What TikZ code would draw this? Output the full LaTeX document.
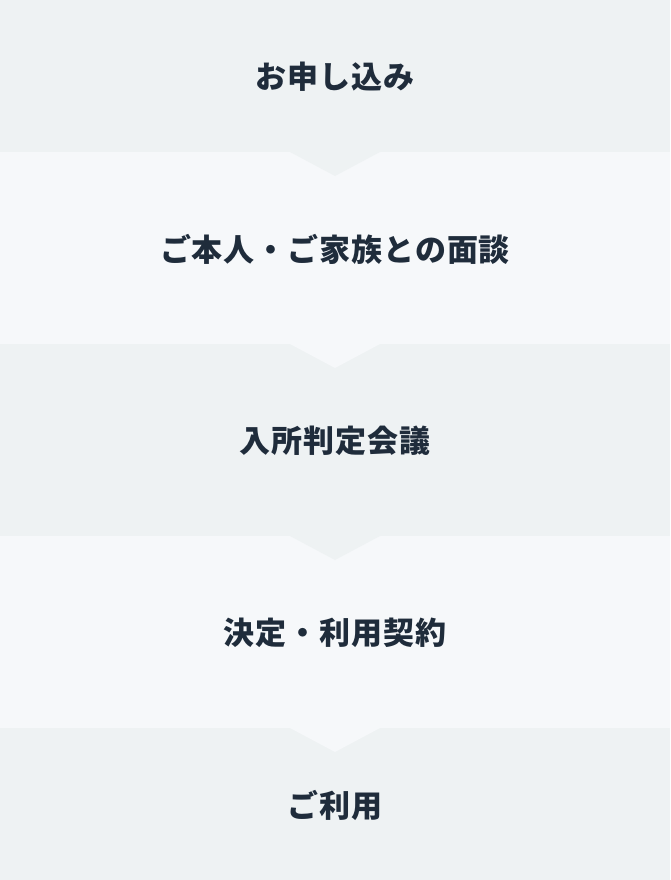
\documentclass[tikz,border=0pt]{standalone}
\usepackage{fontspec}
\newfontfamily\jp{Noto Sans CJK JP}[LetterSpace=3]
\definecolor{banddark}{HTML}{EEF2F3}
\definecolor{bandlight}{HTML}{F6F8FA}
\definecolor{txt}{HTML}{1F2C3B}
\tikzset{
  steplabel/.style={text=txt, font=\jp\bfseries\fontsize{31pt}{34pt}\selectfont, inner sep=0pt, anchor=center},
}
\begin{document}
\begin{tikzpicture}[x=1pt,y=-1pt]
\useasboundingbox (0,0) rectangle (670,880);
% bands
\fill[banddark]  (0,0)   rectangle (670,152);
\fill[bandlight] (0,152) rectangle (670,344);
\fill[banddark]  (0,344) rectangle (670,536);
\fill[bandlight] (0,536) rectangle (670,728);
\fill[banddark]  (0,728) rectangle (670,880);
% chevrons
\fill[banddark]  (290,152) -- (380,152) -- (335,176) -- cycle;
\fill[bandlight] (290,344) -- (380,344) -- (335,368) -- cycle;
\fill[banddark]  (290,536) -- (380,536) -- (335,560) -- cycle;
\fill[bandlight] (290,728) -- (380,728) -- (335,752) -- cycle;
% labels
\node[steplabel] (s1) at (335,77)  {お申し込み};
\node[steplabel] (s2) at (335,249) {ご本人・ご家族との面談};
\node[steplabel] (s3) at (335,441) {入所判定会議};
\node[steplabel] (s4) at (335,633) {決定・利用契約};
\node[steplabel] (s5) at (335,805) {ご利用};
\end{tikzpicture}
\end{document}
